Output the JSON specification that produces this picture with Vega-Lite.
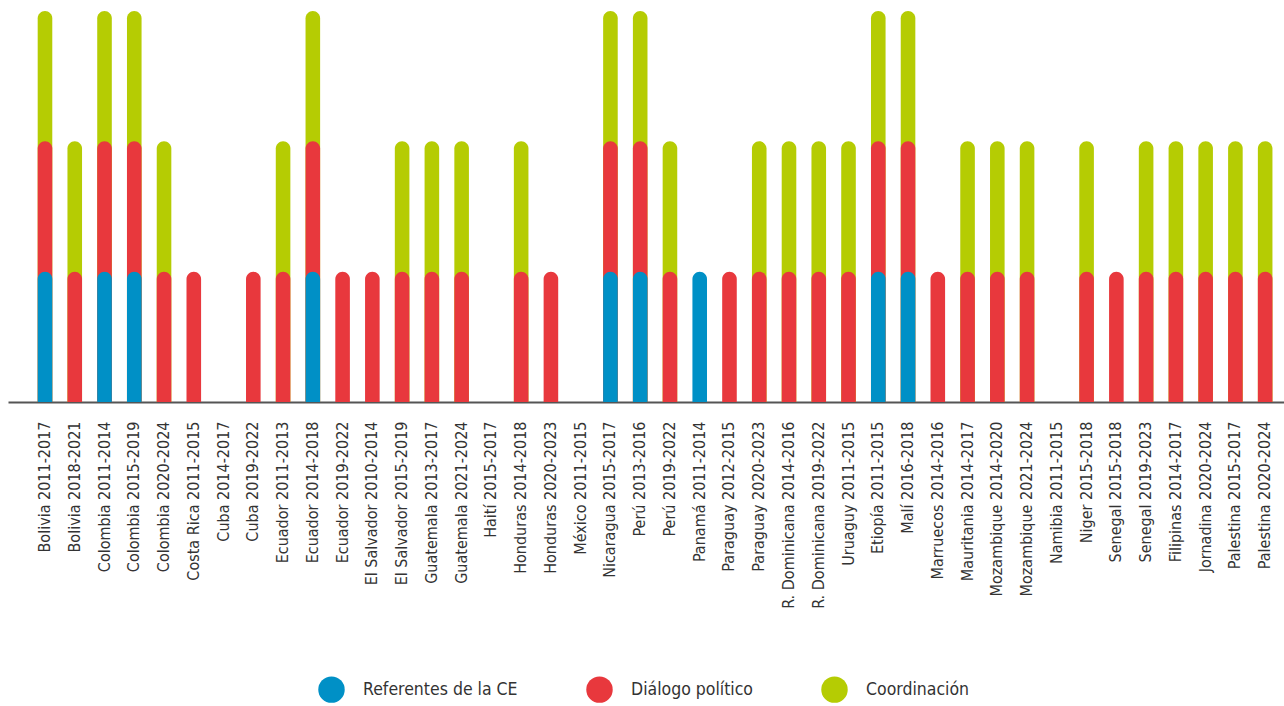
{
  "$schema": "https://vega.github.io/schema/vega-lite/v6.json",
  "width": 1276,
  "height": 391,
  "autosize": "none",
  "padding": {"left": 8, "top": 11, "right": 0, "bottom": 304},
  "background": "white",
  "config": {"view": {"stroke": null}, "font": "DejaVu Sans Condensed, Liberation Sans Narrow, Roboto, sans-serif"},
  "data": {"values": [
    {"pais": "Bolivia 2011-2017", "tipo": "Referentes de la CE", "valor": 1},
    {"pais": "Bolivia 2011-2017", "tipo": "Diálogo político", "valor": 1},
    {"pais": "Bolivia 2011-2017", "tipo": "Coordinación", "valor": 1},
    {"pais": "Bolivia 2018-2021", "tipo": "Diálogo político", "valor": 1},
    {"pais": "Bolivia 2018-2021", "tipo": "Coordinación", "valor": 1},
    {"pais": "Colombia 2011-2014", "tipo": "Referentes de la CE", "valor": 1},
    {"pais": "Colombia 2011-2014", "tipo": "Diálogo político", "valor": 1},
    {"pais": "Colombia 2011-2014", "tipo": "Coordinación", "valor": 1},
    {"pais": "Colombia 2015-2019", "tipo": "Referentes de la CE", "valor": 1},
    {"pais": "Colombia 2015-2019", "tipo": "Diálogo político", "valor": 1},
    {"pais": "Colombia 2015-2019", "tipo": "Coordinación", "valor": 1},
    {"pais": "Colombia 2020-2024", "tipo": "Diálogo político", "valor": 1},
    {"pais": "Colombia 2020-2024", "tipo": "Coordinación", "valor": 1},
    {"pais": "Costa Rica 2011-2015", "tipo": "Diálogo político", "valor": 1},
    {"pais": "Cuba 2019-2022", "tipo": "Diálogo político", "valor": 1},
    {"pais": "Ecuador 2011-2013", "tipo": "Diálogo político", "valor": 1},
    {"pais": "Ecuador 2011-2013", "tipo": "Coordinación", "valor": 1},
    {"pais": "Ecuador 2014-2018", "tipo": "Referentes de la CE", "valor": 1},
    {"pais": "Ecuador 2014-2018", "tipo": "Diálogo político", "valor": 1},
    {"pais": "Ecuador 2014-2018", "tipo": "Coordinación", "valor": 1},
    {"pais": "Ecuador 2019-2022", "tipo": "Diálogo político", "valor": 1},
    {"pais": "El Salvador 2010-2014", "tipo": "Diálogo político", "valor": 1},
    {"pais": "El Salvador 2015-2019", "tipo": "Diálogo político", "valor": 1},
    {"pais": "El Salvador 2015-2019", "tipo": "Coordinación", "valor": 1},
    {"pais": "Guatemala 2013-2017", "tipo": "Diálogo político", "valor": 1},
    {"pais": "Guatemala 2013-2017", "tipo": "Coordinación", "valor": 1},
    {"pais": "Guatemala 2021-2024", "tipo": "Diálogo político", "valor": 1},
    {"pais": "Guatemala 2021-2024", "tipo": "Coordinación", "valor": 1},
    {"pais": "Honduras 2014-2018", "tipo": "Diálogo político", "valor": 1},
    {"pais": "Honduras 2014-2018", "tipo": "Coordinación", "valor": 1},
    {"pais": "Honduras 2020-2023", "tipo": "Diálogo político", "valor": 1},
    {"pais": "Nicaragua 2015-2017", "tipo": "Referentes de la CE", "valor": 1},
    {"pais": "Nicaragua 2015-2017", "tipo": "Diálogo político", "valor": 1},
    {"pais": "Nicaragua 2015-2017", "tipo": "Coordinación", "valor": 1},
    {"pais": "Perú 2013-2016", "tipo": "Referentes de la CE", "valor": 1},
    {"pais": "Perú 2013-2016", "tipo": "Diálogo político", "valor": 1},
    {"pais": "Perú 2013-2016", "tipo": "Coordinación", "valor": 1},
    {"pais": "Perú 2019-2022", "tipo": "Diálogo político", "valor": 1},
    {"pais": "Perú 2019-2022", "tipo": "Coordinación", "valor": 1},
    {"pais": "Panamá 2011-2014", "tipo": "Referentes de la CE", "valor": 1},
    {"pais": "Paraguay 2012-2015", "tipo": "Diálogo político", "valor": 1},
    {"pais": "Paraguay 2020-2023", "tipo": "Diálogo político", "valor": 1},
    {"pais": "Paraguay 2020-2023", "tipo": "Coordinación", "valor": 1},
    {"pais": "R. Dominicana 2014-2016", "tipo": "Diálogo político", "valor": 1},
    {"pais": "R. Dominicana 2014-2016", "tipo": "Coordinación", "valor": 1},
    {"pais": "R. Dominicana 2019-2022", "tipo": "Diálogo político", "valor": 1},
    {"pais": "R. Dominicana 2019-2022", "tipo": "Coordinación", "valor": 1},
    {"pais": "Uruaguy 2011-2015", "tipo": "Diálogo político", "valor": 1},
    {"pais": "Uruaguy 2011-2015", "tipo": "Coordinación", "valor": 1},
    {"pais": "Etiopía 2011-2015", "tipo": "Referentes de la CE", "valor": 1},
    {"pais": "Etiopía 2011-2015", "tipo": "Diálogo político", "valor": 1},
    {"pais": "Etiopía 2011-2015", "tipo": "Coordinación", "valor": 1},
    {"pais": "Malí 2016-2018", "tipo": "Referentes de la CE", "valor": 1},
    {"pais": "Malí 2016-2018", "tipo": "Diálogo político", "valor": 1},
    {"pais": "Malí 2016-2018", "tipo": "Coordinación", "valor": 1},
    {"pais": "Marruecos 2014-2016", "tipo": "Diálogo político", "valor": 1},
    {"pais": "Mauritania 2014-2017", "tipo": "Diálogo político", "valor": 1},
    {"pais": "Mauritania 2014-2017", "tipo": "Coordinación", "valor": 1},
    {"pais": "Mozambique 2014-2020", "tipo": "Diálogo político", "valor": 1},
    {"pais": "Mozambique 2014-2020", "tipo": "Coordinación", "valor": 1},
    {"pais": "Mozambique 2021-2024", "tipo": "Diálogo político", "valor": 1},
    {"pais": "Mozambique 2021-2024", "tipo": "Coordinación", "valor": 1},
    {"pais": "Niger 2015-2018", "tipo": "Diálogo político", "valor": 1},
    {"pais": "Niger 2015-2018", "tipo": "Coordinación", "valor": 1},
    {"pais": "Senegal 2015-2018", "tipo": "Diálogo político", "valor": 1},
    {"pais": "Senegal 2019-2023", "tipo": "Diálogo político", "valor": 1},
    {"pais": "Senegal 2019-2023", "tipo": "Coordinación", "valor": 1},
    {"pais": "Filipinas 2014-2017", "tipo": "Diálogo político", "valor": 1},
    {"pais": "Filipinas 2014-2017", "tipo": "Coordinación", "valor": 1},
    {"pais": "Jornadina 2020-2024", "tipo": "Diálogo político", "valor": 1},
    {"pais": "Jornadina 2020-2024", "tipo": "Coordinación", "valor": 1},
    {"pais": "Palestina 2015-2017", "tipo": "Diálogo político", "valor": 1},
    {"pais": "Palestina 2015-2017", "tipo": "Coordinación", "valor": 1},
    {"pais": "Palestina 2020-2024", "tipo": "Diálogo político", "valor": 1},
    {"pais": "Palestina 2020-2024", "tipo": "Coordinación", "valor": 1}
  ]},
  "transform": [
    {"stack": "valor", "groupby": ["pais"], "sort": [{"field": "tipo", "order": "descending"}], "as": ["y0", "y1"]}
  ],
  "encoding": {
    "x": {
      "field": "pais", "type": "nominal", "sort": null,
      "scale": {
        "domain": ["Bolivia 2011-2017", "Bolivia 2018-2021", "Colombia 2011-2014", "Colombia 2015-2019", "Colombia 2020-2024", "Costa Rica 2011-2015", "Cuba 2014-2017", "Cuba 2019-2022", "Ecuador 2011-2013", "Ecuador 2014-2018", "Ecuador 2019-2022", "El Salvador 2010-2014", "El Salvador 2015-2019", "Guatemala 2013-2017", "Guatemala 2021-2024", "Haití 2015-2017", "Honduras 2014-2018", "Honduras 2020-2023", "México 2011-2015", "Nicaragua 2015-2017", "Perú 2013-2016", "Perú 2019-2022", "Panamá 2011-2014", "Paraguay 2012-2015", "Paraguay 2020-2023", "R. Dominicana 2014-2016", "R. Dominicana 2019-2022", "Uruaguy 2011-2015", "Etiopía 2011-2015", "Malí 2016-2018", "Marruecos 2014-2016", "Mauritania 2014-2017", "Mozambique 2014-2020", "Mozambique 2021-2024", "Namibia 2011-2015", "Niger 2015-2018", "Senegal 2015-2018", "Senegal 2019-2023", "Filipinas 2014-2017", "Jornadina 2020-2024", "Palestina 2015-2017", "Palestina 2020-2024"],
        "paddingInner": 0.51, "paddingOuter": 0.693, "align": 0.72
      },
      "axis": {
        "title": null, "labelAngle": -90, "labelFontSize": 16, "labelColor": "#333333",
        "labelFont": "DejaVu Sans Condensed, Liberation Sans Narrow, Roboto, sans-serif", "labelPadding": 19, "ticks": false,
        "domainColor": "#555555", "domainWidth": 2, "grid": false, "labelLimit": 300
      }
    },
    "y": {"field": "y1", "type": "quantitative", "stack": null, "scale": {"domain": [0, 3], "nice": false}, "axis": null},
    "color": {
      "field": "tipo", "type": "nominal",
      "scale": {"domain": ["Referentes de la CE", "Diálogo político", "Coordinación"], "range": ["#0090c6", "#e8383d", "#b5cc03"]},
      "legend": {
        "title": null, "orient": "none", "legendX": 310, "legendY": 665, "direction": "horizontal",
        "symbolType": "circle", "symbolSize": 700, "symbolOpacity": 1, "symbolStrokeWidth": 0,
        "labelFontSize": 17.5, "labelColor": "#333333", "labelFont": "DejaVu Sans Condensed, Liberation Sans Narrow, Roboto, sans-serif",
        "labelOffset": 18, "columnPadding": 68, "labelLimit": 400, "padding": 0
      }
    }
  },
  "layer": [
    {"transform": [{"filter": "datum.tipo === 'Coordinación'"}], "mark": {"type": "bar", "cornerRadiusTopLeft": 7.3, "cornerRadiusTopRight": 7.3}},
    {"transform": [{"filter": "datum.tipo === 'Diálogo político'"}], "mark": {"type": "bar", "cornerRadiusTopLeft": 7.3, "cornerRadiusTopRight": 7.3}},
    {"transform": [{"filter": "datum.tipo === 'Referentes de la CE'"}], "mark": {"type": "bar", "cornerRadiusTopLeft": 7.3, "cornerRadiusTopRight": 7.3}}
  ]
}
